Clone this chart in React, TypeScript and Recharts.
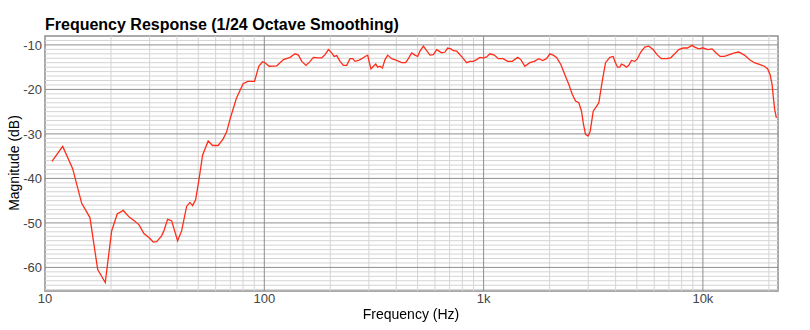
import React from "react";
import {
  LineChart,
  Line,
  XAxis,
  YAxis,
  ReferenceLine,
  ReferenceArea,
} from "recharts";

// frequency points (Hz)
const freqs = [
  10.76, 12.04, 13.37, 14.7, 16.03, 17.39, 18.83, 20.13, 21.35, 22.73, 24.22,
  25.7, 26.89, 28.25, 29.78, 31.15, 32.29, 34.02, 34.96, 36.22, 37.78, 40.24,
  41.97, 44.23, 45.79, 47.1, 48.61, 50.32, 52.31, 55.46, 58.08, 61.6, 64.92,
  67.28, 70.15, 74.7, 80.07, 84.1, 90.24, 94.39, 98.12, 100.8, 105.2, 114,
  122.3, 131.1, 138.1, 143.1, 148.2, 155, 161.7, 167.5, 176.6, 182.8, 189.2,
  196.1, 203, 208, 214, 221.5, 229.5, 237.6, 246, 253.1, 259.3, 268.7, 278.2,
  288, 296.2, 300.3, 306.6, 314.5, 322.2, 329, 337.1, 345.6, 355.2, 365.2,
  381, 401.5, 423.1, 441.2, 453.9, 469.9, 486.4, 500.4, 512.6, 531.2, 550,
  569.4, 590.2, 610.9, 625.8, 643.8, 666.5, 685.5, 709.6, 727.8, 753.4, 779.9,
  808.3, 836.9, 866.3, 897.8, 929.4, 961.8, 996.8, 1032, 1068, 1119, 1167,
  1229, 1286, 1351, 1429, 1479, 1542, 1625, 1702, 1786, 1857, 1936, 2005,
  2077, 2150, 2250, 2347, 2447, 2536, 2625, 2718, 2796, 2846, 2915, 2999,
  3062, 3161, 3272, 3352, 3474, 3597, 3763, 3899, 3965, 4079, 4179, 4254,
  4376, 4481, 4592, 4723, 4890, 5030, 5207, 5431, 5664, 5931, 6205, 6471,
  6820, 7135, 7437, 7756, 8124, 8498, 8931, 9176, 9570, 9918, 10050, 10520,
  11010, 11490, 11980, 12530, 13210, 13920, 14560, 15460, 16290, 17160, 18090,
  19070, 19740, 20250, 20680, 20960, 21240, 21630,
];

// magnitude (dB) at each frequency above
const magnitudes = [
  -36.2, -32.8, -37.8, -45.6, -48.8, -60.5, -63.4, -51.8, -48.0, -47.2, -48.7,
  -49.6, -50.5, -52.4, -53.3, -54.3, -54.2, -52.9, -51.6, -49.2, -49.5, -54.0,
  -51.8, -46.3, -45.4, -46.1, -44.8, -40.4, -34.8, -31.6, -32.6, -32.6, -31.1,
  -29.6, -26.3, -21.9, -18.7, -18.2, -18.2, -14.8, -13.8, -14.0, -14.8, -14.7,
  -13.3, -12.8, -12.0, -12.3, -13.7, -14.6, -13.7, -12.8, -12.9, -12.9, -12.2,
  -11.05, -11.8, -12.6, -12.4, -13.7, -14.6, -14.6, -13.1, -13.1, -13.7, -13.5,
  -13.1, -12.6, -12.3, -13.7, -15.4, -14.8, -14.3, -15.0, -14.8, -15.2, -13.3,
  -12.3, -13.1, -13.5, -14.0, -14.0, -13.1, -11.8, -12.3, -12.6, -11.4, -10.3,
  -11.3, -12.3, -12.2, -11.05, -11.4, -11.8, -11.6, -10.7, -10.9, -11.3, -11.4,
  -12.2, -13.1, -14.0, -13.7, -13.7, -13.3, -12.8, -12.9, -12.7, -12.0, -12.3,
  -13.1, -13.1, -13.7, -13.7, -12.8, -13.3, -14.8, -14.0, -13.7, -13.1, -13.5,
  -13.1, -12.0, -12.3, -12.8, -14.4, -16.7, -18.9, -21.1, -22.6, -23.0, -24.9,
  -27.5, -30.1, -30.5, -29.4, -24.9, -23.8, -23.0, -18.2, -14.0, -12.8, -12.6,
  -13.7, -15.0, -15.0, -14.3, -14.6, -15.0, -14.6, -13.5, -13.7, -13.1, -11.6,
  -10.5, -10.3, -11.05, -12.3, -13.1, -13.1, -12.9, -12.0, -11.05, -10.7, -10.7,
  -10.1, -10.5, -10.9, -10.7, -10.7, -11.05, -10.9, -11.8, -12.6, -12.6, -12.2,
  -11.8, -11.6, -12.3, -13.3, -14.0, -14.4, -14.8, -15.4, -16.7, -18.9, -21.9,
  -24.5, -26.4,
];

const xTicks = [10, 100, 1000, 10000];
const xMajorLines = [100, 1000, 10000];
const xMinorLines = [
  20, 30, 40, 50, 60, 70, 80, 90, 200, 300, 400, 500, 600, 700, 800, 900,
  2000, 3000, 4000, 5000, 6000, 7000, 8000, 9000, 20000,
];
const yTicks = [-60, -50, -40, -30, -20, -10];
const yMinorLines = [
  -65, -64, -63, -62, -61, -59, -58, -57, -56, -55, -54, -53, -52, -51, -49,
  -48, -47, -46, -45, -44, -43, -42, -41, -39, -38, -37, -36, -35, -34, -33,
  -32, -31, -29, -28, -27, -26, -25, -24, -23, -22, -21, -19, -18, -17, -16,
  -15, -14, -13, -12, -11, -9,
];

const xDomain = [10, 22000];
const yDomain = [-65.3, -8];

const data = freqs.map((f, i) => ({ freq: f, db: magnitudes[i] }));

const fmtFreq = (v: number) => (v >= 1000 ? `${v / 1000}k` : `${v}`);

const font = '"Liberation Sans", Arial, Helvetica, sans-serif';
const minorColor = "#d4d4d4";
const majorColor = "#8e8e8e";

export default function App() {
  return (
    <div
      style={{
        position: "fixed",
        left: 0,
        top: 0,
        width: 810,
        height: 330,
        background: "#fff",
        fontFamily: font,
      }}
    >
      <div
        style={{
          position: "absolute",
          left: 45,
          top: 17,
          fontSize: 16,
          lineHeight: "16px",
          fontWeight: "bold",
          color: "#000",
          whiteSpace: "nowrap",
        }}
      >
        Frequency Response (1/24 Octave Smoothing)
      </div>
      <LineChart
        width={810}
        height={330}
        data={data}
        margin={{ top: 36, right: 32, bottom: 0, left: 0 }}
      >
        {yMinorLines.map((v) => (
          <ReferenceLine key={`ym${v}`} y={v} stroke={minorColor} strokeWidth={1} />
        ))}
        {xMinorLines.map((v) => (
          <ReferenceLine key={`xm${v}`} x={v} stroke={minorColor} strokeWidth={1} />
        ))}
        {yTicks.map((v) => (
          <ReferenceLine key={`yM${v}`} y={v} stroke={majorColor} strokeWidth={1} />
        ))}
        {xMajorLines.map((v) => (
          <ReferenceLine key={`xM${v}`} x={v} stroke={majorColor} strokeWidth={1} />
        ))}
        <ReferenceArea
          x1={xDomain[0]}
          x2={xDomain[1]}
          y1={yDomain[0]}
          y2={yDomain[1]}
          fill="none"
          fillOpacity={0}
          stroke={majorColor}
          strokeWidth={1.5}
        />
        <XAxis
          dataKey="freq"
          type="number"
          scale="log"
          domain={xDomain}
          ticks={xTicks}
          tickFormatter={fmtFreq}
          allowDataOverflow
          axisLine={false}
          tickLine={false}
          tickSize={0}
          tickMargin={3}
          height={39}
          tick={{ fontSize: 13, fill: "#444", fontFamily: font }}
        />
        <YAxis
          type="number"
          domain={yDomain}
          ticks={yTicks}
          allowDataOverflow
          axisLine={false}
          tickLine={false}
          tickSize={0}
          tickMargin={3}
          width={45}
          tick={{ fontSize: 13, fill: "#444", fontFamily: font }}
        />
        <Line
          type="linear"
          dataKey="db"
          stroke="#ff2d1a"
          strokeWidth={1.3}
          dot={false}
          activeDot={false}
          isAnimationActive={false}
        />
      </LineChart>
      <div
        style={{
          position: "absolute",
          left: 0,
          width: 822,
          top: 306,
          textAlign: "center",
          fontSize: 14,
          lineHeight: "16px",
          color: "#000",
        }}
      >
        Frequency (Hz)
      </div>
      <div
        style={{
          position: "absolute",
          left: 14,
          top: 163,
          transform: "translate(-50%, -50%) rotate(-90deg)",
          fontSize: 14,
          lineHeight: "16px",
          color: "#000",
          whiteSpace: "nowrap",
        }}
      >
        Magnitude (dB)
      </div>
    </div>
  );
}
